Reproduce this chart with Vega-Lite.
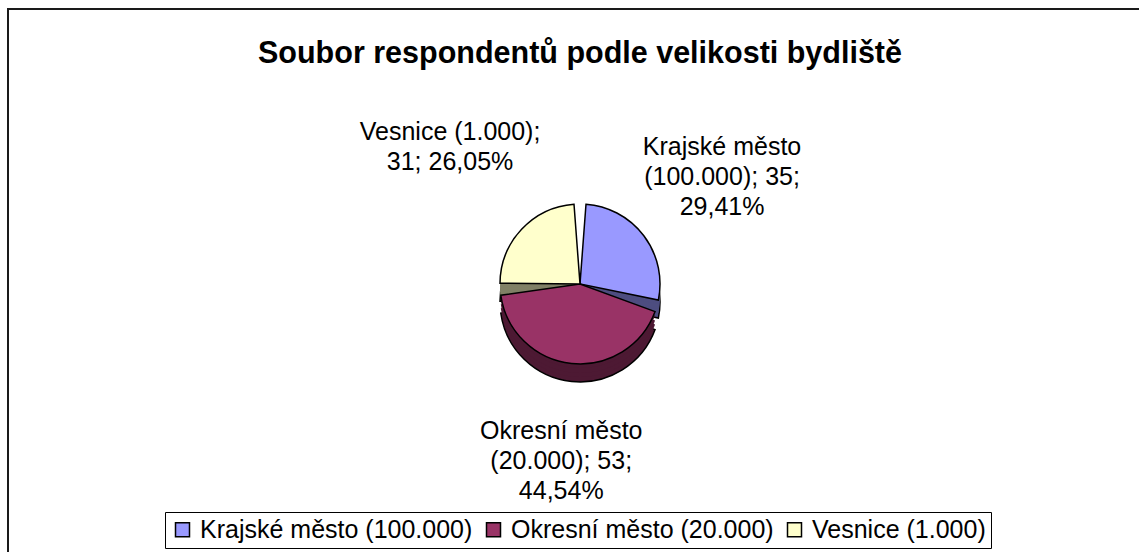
{
  "$schema": "https://vega.github.io/schema/vega-lite/v6.json",
  "width": 1144,
  "height": 550,
  "autosize": {"type": "none"},
  "padding": {"left": 8, "top": 9, "right": 0, "bottom": 0},
  "background": "white",
  "view": {"stroke": "#1a1a1a", "strokeWidth": 2, "fill": "white"},
  "title": {
    "text": "Soubor respondentů podle velikosti bydliště",
    "font": "Liberation Sans",
    "fontSize": 30.5,
    "fontWeight": "bold",
    "color": "black",
    "anchor": "middle",
    "baseline": "alphabetic",
    "offset": -53,
    "dy": 31
  },
  "data": {
    "values": [
      {"kategorie": "Krajské město (100.000)", "pocet": 35, "popisek": "Krajské město\n(100.000); 35;\n29,41%"},
      {"kategorie": "Okresní město (20.000)", "pocet": 53, "popisek": "Okresní město\n(20.000); 53;\n44,54%"},
      {"kategorie": "Vesnice (1.000)", "pocet": 31, "popisek": "Vesnice (1.000);\n31; 26,05%"}
    ]
  },
  "layer": [
    {
      "mark": {"type": "arc", "radius": 80, "padAngle": 0.15, "yOffset": 18, "stroke": "black", "strokeWidth": 1.5},
      "encoding": {
        "theta": {"field": "pocet", "type": "quantitative", "stack": true},
        "color": {"field": "kategorie", "type": "nominal", "legend": null,
          "scale": {"domain": ["Krajské město (100.000)", "Okresní město (20.000)", "Vesnice (1.000)"], "range": ["#4D4D80", "#4D1933", "#808066"]}}
      }
    },
    {
      "mark": {"type": "arc", "radius": 80, "padAngle": 0.15, "yOffset": 13},
      "encoding": {
        "theta": {"field": "pocet", "type": "quantitative", "stack": true},
        "color": {"field": "kategorie", "type": "nominal", "legend": null,
          "scale": {"domain": ["Krajské město (100.000)", "Okresní město (20.000)", "Vesnice (1.000)"], "range": ["#4D4D80", "#4D1933", "#808066"]}}
      }
    },
    {
      "mark": {"type": "arc", "radius": 80, "padAngle": 0.15, "yOffset": 9},
      "encoding": {
        "theta": {"field": "pocet", "type": "quantitative", "stack": true},
        "color": {"field": "kategorie", "type": "nominal", "legend": null,
          "scale": {"domain": ["Krajské město (100.000)", "Okresní město (20.000)", "Vesnice (1.000)"], "range": ["#4D4D80", "#4D1933", "#808066"]}}
      }
    },
    {
      "mark": {"type": "arc", "radius": 80, "padAngle": 0.15, "yOffset": 4},
      "encoding": {
        "theta": {"field": "pocet", "type": "quantitative", "stack": true},
        "color": {"field": "kategorie", "type": "nominal", "legend": null,
          "scale": {"domain": ["Krajské město (100.000)", "Okresní město (20.000)", "Vesnice (1.000)"], "range": ["#4D4D80", "#4D1933", "#808066"]}}
      }
    },
    {
      "mark": {"type": "arc", "radius": 80, "padAngle": 0.15, "stroke": "black", "strokeWidth": 1.5},
      "encoding": {
        "theta": {"field": "pocet", "type": "quantitative", "stack": true},
        "color": {"field": "kategorie", "type": "nominal",
          "scale": {"domain": ["Krajské město (100.000)", "Okresní město (20.000)", "Vesnice (1.000)"], "range": ["#9999FF", "#993366", "#FFFFCC"]},
          "legend": {
            "title": null,
            "orient": "none",
            "legendX": 157,
            "legendY": 503,
            "direction": "horizontal",
            "symbolType": "square",
            "symbolSize": 196,
            "symbolStrokeColor": "black",
            "symbolStrokeWidth": 1.5,
            "symbolOpacity": 1,
            "labelFont": "Liberation Sans",
            "labelFontSize": 25,
            "labelColor": "black",
            "labelOffset": 5,
            "labelLimit": 400,
            "columnPadding": 8,
            "strokeColor": "black",
            "fillColor": "white",
            "padding": 5,
            "cornerRadius": 0
          }}
      }
    },
    {
      "mark": {"type": "text", "radius": 178, "font": "Liberation Sans", "fontSize": 25, "lineBreak": "\n", "lineHeight": 30, "align": "center", "baseline": "middle", "dy": -30, "color": "black"},
      "encoding": {
        "theta": {"field": "pocet", "type": "quantitative", "stack": true},
        "text": {"field": "popisek", "type": "nominal"}
      }
    }
  ],
  "resolve": {"scale": {"color": "independent"}}
}
